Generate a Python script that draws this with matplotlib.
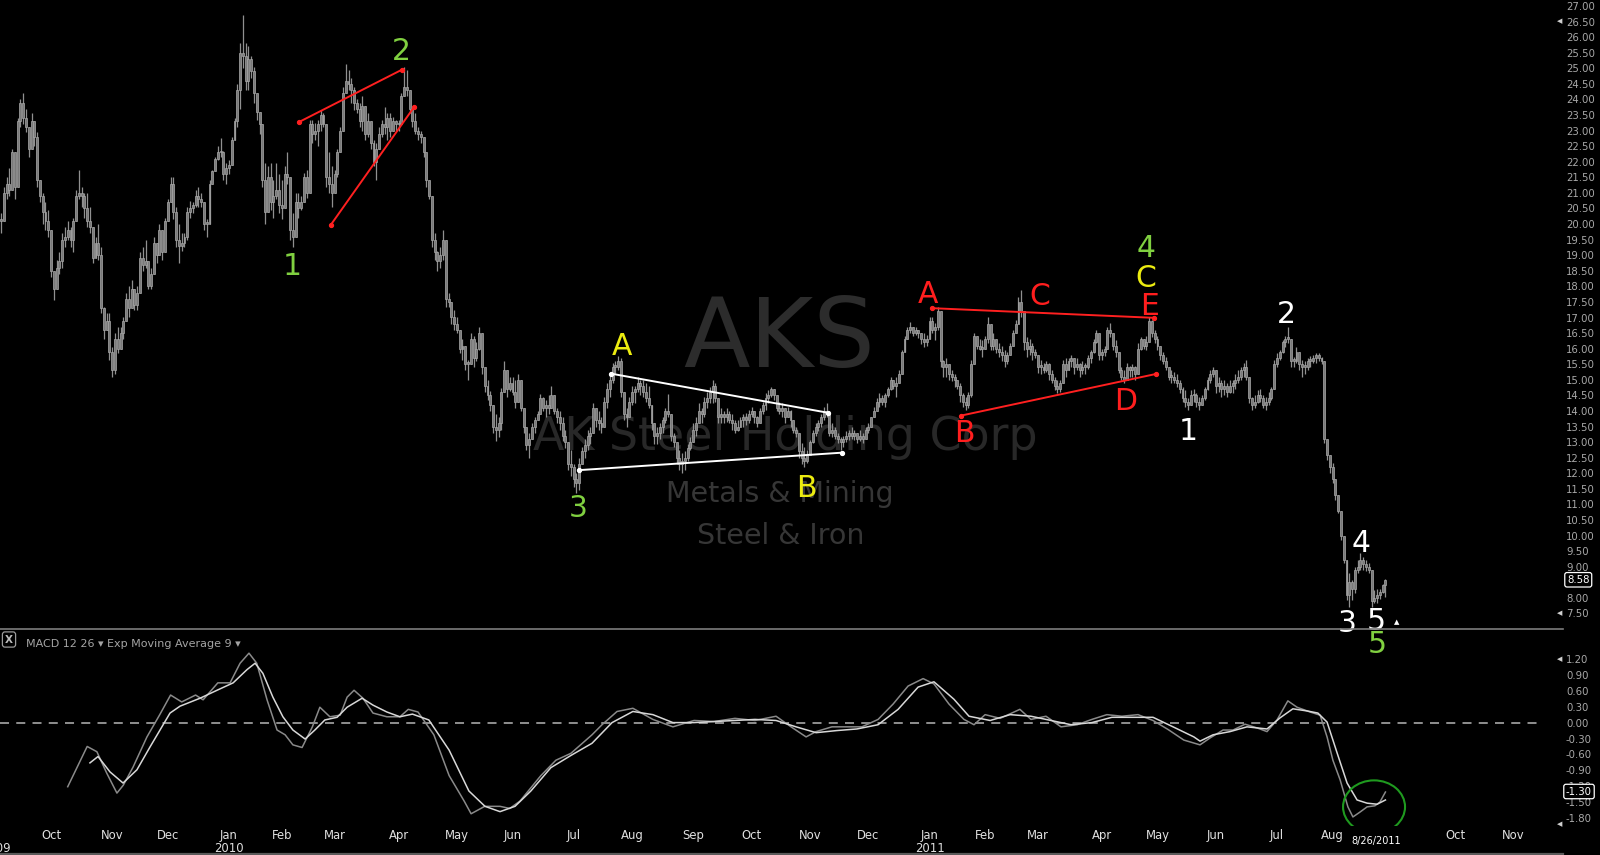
import numpy as np
import pandas as pd
import matplotlib
matplotlib.use("Agg")
import matplotlib.pyplot as plt
from matplotlib.patches import Ellipse
from matplotlib.lines import Line2D
import matplotlib.transforms as mtransforms

# ====================== DATA ======================
holidays = ['2009-09-07', '2009-11-26', '2009-12-25', '2010-01-01', '2010-01-18',
            '2010-02-15', '2010-04-02', '2010-05-31', '2010-07-05', '2010-09-06',
            '2010-11-25', '2010-12-24', '2011-01-17', '2011-02-21', '2011-04-22',
            '2011-05-30', '2011-07-04', '2011-09-05', '2011-11-24']
first_day = '2009-09-04'
axis_end_day = '2011-11-30'

high = [
    # Sep 2009
    20.35, 21.2, 21.5, 21.8, 22.4, 22.15, 23.4, 24.0, 24.2, 23.7, 22.9, 23.55, 23.1, 22.95, 21.4, 21.0, 20.7, 20.45,
    # Oct 2009
    19.7, 18.4, 18.85, 19.1, 19.7, 19.9, 20.1, 19.9, 20.2, 21.1, 21.75, 21.2, 21.0, 21.0, 20.55, 19.7, 19.6, 20.0, 19.25, 17.35, 17.15, 17.15,
    # Nov 2009
    16.05, 16.5, 16.7, 16.7, 17.0, 17.8, 18.0, 18.2, 17.8, 18.0, 19.1, 19.25, 19.5, 18.75, 18.6, 19.6, 19.25, 20.0, 19.8, 20.2,
    # Dec 2009
    20.8, 21.5, 21.5, 20.55, 20.0, 19.7, 19.7, 20.55, 20.75, 20.7, 21.1, 21.2, 21.0, 20.45, 20.15, 21.4, 21.75, 22.15, 22.5, 22.75, 22.35, 21.95,
    # Jan 2010
    22.05, 22.8, 23.4, 24.5, 25.8, 26.7, 25.8, 25.7, 25.4, 25.05, 24.2, 23.55, 23.0, 21.95, 21.85, 21.95, 21.4, 21.95, 21.6,
    # Feb 2010
    21.4, 21.85, 22.3, 20.8, 20.35, 21.0, 21.0, 20.9, 21.65, 21.75, 23.35, 23.35, 23.25, 23.35, 23.65, 23.55, 22.8, 22.3, 21.85,
    # Mar 2010
    21.75, 22.4, 23.1, 24.4, 25.15, 24.95, 24.7, 24.4, 24.0, 23.9, 24.1, 23.25, 23.55, 23.1, 22.7, 22.6, 23.1, 23.35, 23.75, 23.55, 23.55, 23.45, 23.35,
    # Apr 2010
    23.35, 24.2, 25.05, 24.95, 24.0, 23.75, 23.55, 23.1, 23.0, 22.8, 22.05, 21.2, 20.8, 19.7, 19.15, 19.25, 19.8, 18.6, 17.8, 17.25, 17.25,
    # May 2010
    17.0, 16.5, 16.3, 15.95, 15.65, 16.5, 16.4, 16.2, 16.7, 16.2, 15.4, 15.0, 14.65, 14.0, 13.9, 13.8, 14.75, 15.6, 15.2, 15.1,
    # Jun 2010
    15.1, 15.0, 15.2, 14.9, 14.1, 13.5, 13.3, 13.6, 13.8, 14.0, 14.55, 14.45, 14.35, 14.5, 14.8, 14.35, 14.1, 14.0, 13.8, 13.4, 12.95, 12.75,
    # Jul 2010
    12.3, 12.0, 12.5, 12.85, 13.1, 13.4, 13.5, 14.25, 14.1, 14.0, 13.8, 14.45, 14.9, 15.2, 15.55, 15.6, 15.75, 15.7, 14.25, 14.1, 14.45,
    # Aug 2010
    14.8, 14.8, 15.1, 15.0, 15.0, 14.9, 14.8, 13.9, 13.6, 13.5, 13.6, 13.8, 14.1, 14.55, 13.7, 13.3, 12.9, 12.75, 12.65, 12.7, 12.95, 13.15,
    # Sep 2010
    13.6, 13.8, 14.25, 14.1, 14.46, 14.6, 14.78, 15.0, 14.9, 14.3, 14.1, 14.0, 14.1, 14.0, 13.9, 13.7, 13.7, 13.82, 13.9, 13.95, 14.03,
    # Oct 2010
    14.14, 14.0, 13.85, 14.1, 14.3, 14.57, 14.67, 14.78, 14.7, 14.5, 14.3, 14.24, 14.0, 14.14, 14.03, 13.7, 13.5, 13.2, 12.96, 12.85, 12.75,
    # Nov 2010
    13.07, 13.39, 13.6, 13.7, 13.9, 14.14, 14.24, 14.0, 13.6, 13.5, 13.28, 13.17, 13.2, 13.35, 13.39, 13.5, 13.39, 13.28, 13.39, 13.3, 13.5,
    # Dec 2010
    13.6, 13.82, 14.14, 14.4, 14.57, 14.5, 14.57, 14.78, 15.1, 15.0, 15.1, 15.3, 15.96, 16.4, 16.7, 16.87, 16.7, 16.7, 16.6, 16.5, 16.49, 16.45,
    # Jan 2011
    17.03, 17.0, 16.81, 17.35, 16.3, 15.64, 15.7, 15.42, 15.3, 15.2, 15.0, 14.89, 14.57, 14.46, 14.6, 15.64, 16.49, 16.4, 16.3, 16.28,
    # Feb 2011
    16.4, 17.03, 16.6, 16.49, 16.3, 16.17, 16.1, 15.96, 15.9, 16.17, 16.6, 16.92, 17.67, 17.88, 16.81, 16.39, 16.3, 16.17, 16.0,
    # Mar 2011
    15.74, 15.65, 15.53, 15.6, 15.53, 15.32, 15.1, 14.99, 15.0, 15.64, 15.7, 15.7, 15.8, 15.6, 15.7, 15.53, 15.6, 15.53, 15.8, 15.96, 16.3, 16.6, 16.17,
    # Apr 2011
    16.0, 16.1, 16.71, 16.81, 16.49, 16.28, 15.85, 15.42, 15.32, 15.53, 15.45, 15.5, 15.45, 16.17, 16.39, 16.3, 16.4, 17.03, 16.92, 16.6,
    # May 2011
    16.4, 16.06, 15.9, 15.74, 15.42, 15.31, 15.25, 15.2, 14.99, 14.78, 14.67, 14.4, 14.67, 14.7, 14.57, 14.46, 14.5, 14.78, 15.1, 15.31, 15.42,
    # Jun 2011
    15.2, 15.1, 14.99, 15.0, 14.9, 14.99, 15.0, 15.2, 15.31, 15.42, 15.53, 15.63, 14.99, 14.46, 14.5, 14.67, 14.7, 14.5, 14.46, 14.6, 14.78, 15.63,
    # Jul 2011
    15.85, 15.96, 16.28, 16.4, 16.7, 16.28, 15.74, 16.06, 15.9, 15.63, 15.6, 15.7, 15.75, 15.8, 15.85, 15.85, 15.74, 14.78, 13.07, 12.53,
    # Aug 2011
    12.32, 11.78, 11.25, 10.71, 9.86, 9.0, 8.79, 8.57, 9.0, 9.21, 9.43, 9.3, 9.2, 9.11, 8.36, 8.25, 8.3, 8.3, 8.46, 8.6,
]

low = [
    19.7, 20.7, 20.8, 20.9, 21.5, 20.8, 21.7, 23.1, 23.2, 22.95, 22.15, 22.4, 22.5, 21.2, 20.7, 20.0, 19.8, 19.6,
    18.3, 17.55, 18.2, 18.4, 18.6, 19.25, 19.5, 19.25, 19.1, 20.45, 20.8, 20.55, 20.2, 19.9, 19.7, 18.75, 19.1, 18.85, 17.15, 16.3, 16.7, 15.65,
    15.1, 15.2, 15.85, 16.05, 16.3, 17.35, 17.0, 17.55, 17.25, 17.25, 18.1, 18.5, 18.6, 17.9, 17.9, 18.95, 18.75, 19.4, 18.85, 19.7,
    20.15, 20.8, 20.15, 19.25, 18.75, 19.15, 19.25, 19.5, 20.2, 20.35, 20.55, 20.55, 20.55, 19.8, 19.6, 20.2, 21.4, 21.8, 22.05, 22.15, 21.4, 21.3,
    21.6, 22.0, 22.7, 23.1, 23.7, 25.0, 24.3, 24.3, 24.7, 23.9, 23.35, 22.9, 21.2, 20.0, 21.0, 20.45, 20.2, 20.8, 20.35,
    20.15, 20.85, 21.3, 19.5, 19.25, 19.9, 20.2, 20.45, 20.8, 20.85, 21.85, 22.6, 22.7, 22.5, 23.0, 23.1, 21.2, 21.0, 20.55,
    21.2, 21.5, 22.3, 23.0, 24.3, 24.3, 23.9, 23.65, 23.55, 23.1, 23.0, 22.7, 22.8, 22.4, 21.85, 21.4, 22.5, 22.8, 22.9, 22.7, 22.8, 23.0, 23.0,
    23.0, 23.35, 24.2, 24.1, 23.55, 23.1, 22.9, 22.7, 22.6, 22.15, 21.2, 20.8, 19.25, 18.85, 18.5, 18.6, 18.85, 17.35, 17.35, 16.8, 16.6,
    16.5, 15.85, 15.65, 15.3, 15.0, 15.65, 15.4, 15.6, 15.95, 15.2, 14.6, 14.35, 14.0, 13.3, 13.05, 13.15, 13.4, 14.65, 14.45, 14.65,
    14.5, 14.1, 14.45, 14.0, 13.3, 12.75, 12.5, 13.15, 13.3, 13.7, 14.0, 14.0, 13.8, 13.9, 14.1, 13.9, 13.6, 13.4, 13.05, 12.8, 12.1, 11.9,
    11.55, 11.35, 11.45, 12.3, 12.5, 12.75, 12.95, 13.4, 13.5, 13.4, 13.3, 13.6, 14.1, 14.45, 14.9, 15.2, 15.3, 14.45, 13.7, 13.5, 13.9,
    14.2, 14.25, 14.6, 14.5, 14.45, 14.3, 14.1, 13.4, 12.95, 12.95, 13.1, 13.3, 13.6, 13.8, 13.05, 12.85, 12.3, 12.1, 12.0, 12.1, 12.4, 12.75,
    13.05, 13.2, 13.6, 13.6, 13.82, 14.1, 14.24, 14.24, 14.3, 13.6, 13.6, 13.6, 13.65, 13.6, 13.4, 13.28, 13.35, 13.5, 13.5, 13.55, 13.6,
    13.82, 13.6, 13.5, 13.7, 13.9, 14.03, 14.24, 14.46, 14.35, 14.0, 13.9, 13.82, 13.6, 13.82, 13.5, 13.28, 13.17, 12.5, 12.3, 12.21, 12.32,
    12.64, 12.96, 13.2, 13.35, 13.5, 13.71, 13.82, 13.2, 13.17, 13.1, 12.96, 12.75, 12.85, 13.0, 13.07, 13.1, 13.07, 12.96, 13.05, 12.96, 13.1,
    13.28, 13.5, 13.82, 14.0, 14.14, 14.2, 14.14, 14.46, 14.67, 14.7, 14.46, 14.89, 15.42, 15.96, 16.3, 16.49, 16.4, 16.45, 16.35, 16.15, 16.06, 16.1,
    16.4, 16.5, 16.28, 16.6, 15.4, 15.1, 15.1, 15.0, 14.95, 14.78, 14.7, 14.3, 14.14, 14.03, 14.1, 14.46, 15.96, 16.0, 15.95, 15.74,
    16.0, 16.17, 15.96, 15.96, 15.85, 15.74, 15.6, 15.42, 15.5, 15.85, 16.3, 16.49, 16.92, 17.03, 15.96, 15.74, 15.8, 15.64, 15.7,
    15.21, 15.2, 15.21, 15.25, 15.0, 14.89, 14.67, 14.57, 14.6, 15.1, 15.1, 15.3, 15.4, 15.2, 15.3, 15.1, 15.2, 15.2, 15.35, 15.53, 15.85, 16.17, 15.64,
    15.65, 15.75, 16.28, 16.39, 15.96, 15.74, 15.21, 15.0, 14.89, 15.1, 15.1, 15.1, 15.0, 15.53, 15.96, 16.0, 15.96, 16.49, 16.39, 16.17,
    15.96, 15.64, 15.5, 15.31, 14.99, 14.89, 14.9, 14.78, 14.57, 14.3, 14.14, 14.03, 14.24, 14.3, 14.14, 14.03, 14.2, 14.35, 14.67, 14.89, 15.1,
    14.57, 14.6, 14.46, 14.5, 14.46, 14.57, 14.57, 14.7, 14.89, 14.99, 15.1, 14.99, 14.24, 14.03, 14.1, 14.24, 14.3, 14.1, 14.03, 14.2, 14.35, 15.1,
    15.42, 15.64, 15.85, 16.06, 16.17, 15.42, 15.42, 15.53, 15.3, 15.1, 15.2, 15.3, 15.4, 15.55, 15.53, 15.6, 15.5, 12.96, 12.43, 12.0,
    11.68, 11.14, 10.71, 9.86, 9.11, 7.93, 7.72, 7.93, 8.14, 8.79, 8.9, 8.9, 8.85, 8.79, 7.72, 7.83, 7.85, 7.95, 8.14, 8.04,
]

close = [
    20.1, 21.0, 21.3, 21.1, 22.3, 21.2, 23.3, 23.9, 23.4, 23.1, 22.4, 23.3, 22.8, 21.4, 20.9, 20.4, 20.1, 19.8,
    18.5, 17.9, 18.6, 18.8, 19.5, 19.6, 19.8, 19.5, 20.1, 20.9, 21.0, 20.9, 20.5, 20.1, 19.9, 18.9, 19.4, 19.0, 17.3, 16.6, 16.9, 15.9,
    15.3, 16.3, 16.0, 16.5, 16.9, 17.6, 17.3, 17.9, 17.4, 17.8, 18.9, 18.7, 18.8, 18.0, 18.4, 19.4, 19.0, 19.8, 19.1, 20.1,
    20.7, 21.3, 20.4, 19.5, 19.3, 19.4, 19.6, 20.4, 20.5, 20.6, 20.9, 20.8, 20.7, 20.0, 20.0, 21.3, 21.7, 22.1, 22.3, 22.3, 21.6, 21.8,
    21.9, 22.7, 23.3, 24.3, 25.5, 25.4, 24.6, 25.3, 24.9, 24.2, 23.6, 23.2, 21.4, 20.4, 21.5, 20.7, 20.9, 21.1, 20.6,
    20.5, 21.6, 21.5, 19.8, 19.6, 20.7, 20.5, 20.7, 21.5, 21.0, 23.2, 22.9, 23.0, 23.2, 23.5, 23.2, 21.5, 21.3, 21.0,
    21.6, 22.3, 23.0, 24.2, 24.6, 24.5, 24.3, 23.9, 23.7, 23.3, 23.8, 22.9, 23.3, 22.6, 22.0, 22.4, 22.9, 23.2, 23.1, 23.4, 23.0, 23.3, 23.2,
    23.2, 24.1, 24.4, 24.3, 23.7, 23.3, 23.0, 22.9, 22.8, 22.3, 21.4, 20.9, 19.5, 19.1, 18.8, 19.0, 19.5, 17.6, 17.5, 17.0, 16.8,
    16.6, 16.0, 16.1, 15.5, 15.5, 16.3, 15.7, 16.0, 16.5, 15.4, 14.8, 14.5, 14.2, 13.5, 13.4, 13.6, 14.6, 15.3, 14.7, 14.9,
    14.6, 14.3, 15.0, 14.1, 13.5, 12.9, 13.1, 13.5, 13.7, 13.9, 14.4, 14.1, 14.2, 14.1, 14.5, 14.0, 13.8, 13.6, 13.2, 13.0, 12.3, 12.2,
    11.8, 11.7, 12.3, 12.7, 12.9, 13.2, 13.3, 14.1, 13.7, 13.6, 13.5, 14.3, 14.7, 15.0, 15.4, 15.4, 15.6, 14.6, 13.9, 13.8, 14.3,
    14.6, 14.7, 14.9, 14.8, 14.6, 14.4, 14.2, 13.6, 13.2, 13.3, 13.5, 13.7, 14.0, 13.9, 13.2, 13.0, 12.5, 12.3, 12.4, 12.5, 12.8, 13.0,
    13.4, 13.6, 14.0, 13.9, 14.3, 14.4, 14.6, 14.8, 14.4, 13.8, 13.9, 13.8, 13.9, 13.7, 13.6, 13.4, 13.5, 13.7, 13.8, 13.7, 13.9,
    14.0, 13.8, 13.6, 14.0, 14.2, 14.4, 14.5, 14.7, 14.5, 14.1, 14.0, 14.1, 13.8, 14.0, 13.7, 13.4, 13.3, 12.7, 12.5, 12.4, 12.6,
    13.0, 13.3, 13.5, 13.6, 13.8, 14.0, 13.9, 13.3, 13.4, 13.2, 13.1, 13.0, 13.1, 13.2, 13.3, 13.2, 13.3, 13.1, 13.2, 13.1, 13.4,
    13.5, 13.8, 14.0, 14.3, 14.4, 14.3, 14.5, 14.7, 15.0, 14.8, 14.9, 15.2, 15.9, 16.3, 16.6, 16.7, 16.5, 16.6, 16.5, 16.3, 16.2, 16.3,
    16.9, 16.6, 16.7, 17.2, 15.6, 15.4, 15.5, 15.2, 15.1, 15.0, 14.8, 14.5, 14.3, 14.2, 14.5, 15.5, 16.4, 16.1, 16.0, 16.0,
    16.3, 16.8, 16.1, 16.3, 16.0, 15.9, 15.8, 15.6, 15.8, 16.1, 16.5, 16.8, 17.5, 17.2, 16.2, 16.0, 16.1, 15.9, 15.8,
    15.4, 15.4, 15.3, 15.5, 15.2, 15.0, 14.8, 14.7, 14.9, 15.5, 15.3, 15.6, 15.7, 15.4, 15.5, 15.3, 15.4, 15.4, 15.7, 15.9, 16.2, 16.5, 15.8,
    15.9, 16.0, 16.6, 16.5, 16.1, 15.9, 15.3, 15.1, 15.0, 15.4, 15.3, 15.4, 15.2, 16.0, 16.3, 16.1, 16.2, 16.9, 16.5, 16.3,
    16.1, 15.8, 15.6, 15.4, 15.1, 15.1, 15.0, 14.9, 14.7, 14.4, 14.3, 14.2, 14.5, 14.5, 14.3, 14.2, 14.4, 14.7, 15.0, 15.2, 15.3,
    14.8, 14.9, 14.7, 14.8, 14.6, 14.8, 14.9, 15.0, 15.1, 15.3, 15.4, 15.1, 14.4, 14.2, 14.3, 14.5, 14.4, 14.2, 14.3, 14.4, 14.7, 15.5,
    15.7, 15.9, 16.2, 16.3, 16.3, 15.6, 15.6, 15.9, 15.5, 15.4, 15.4, 15.6, 15.6, 15.7, 15.8, 15.7, 15.6, 13.1, 12.6, 12.2,
    11.8, 11.3, 10.8, 10.0, 9.2, 8.1, 8.5, 8.3, 8.9, 9.0, 9.2, 9.1, 9.0, 8.9, 7.9, 8.0, 8.1, 8.2, 8.4, 8.58,
]

# MACD(12,26) and its 9-period EMA as (trading-day index, value)
macd_pts = [
    (24, -1.21), (31, -0.45), (34.5, -0.55), (38, -0.95), (41.7, -1.33), (44, -1.18), (47.5, -0.84),
    (52.5, -0.27), (57, 0.14), (61, 0.52), (65, 0.39), (70, 0.52), (72.7, 0.43), (78, 0.75), (82.4, 0.75),
    (86, 1.12), (89.2, 1.31), (92, 1.12), (95.7, 0.43), (99.3, -0.14), (102.2, -0.23), (105, -0.42),
    (108.3, -0.47), (112, -0.08), (114.7, 0.29), (118.3, 0.11), (122, 0.14), (124.5, 0.48), (127, 0.61),
    (130.2, 0.46), (133.8, 0.18), (138.8, 0.11), (143.5, 0.11), (146.5, 0.25), (150, 0.20), (155.7, -0.23),
    (161.2, -1.0), (166.6, -1.48), (169.1, -1.72), (174, -1.58), (179.5, -1.58), (183, -1.62), (186.7, -1.48),
    (194.2, -1.0), (199.6, -0.71), (205, -0.58), (212.6, -0.23), (216.2, -0.04), (221.6, 0.21), (227.3, 0.27),
    (234.5, 0.06), (241.7, -0.08), (249.3, 0.04), (256.5, 0.02), (264, 0.08), (271.2, 0.04), (278.8, 0.12),
    (284.2, -0.08), (289.6, -0.27), (293.2, -0.17), (298.9, -0.08), (304.3, -0.08), (309.7, -0.08),
    (315.5, 0.06), (320.9, 0.35), (326.3, 0.69), (331.7, 0.83), (335.6, 0.73), (341, 0.35), (346.4, 0.06),
    (350, -0.04), (354, 0.15), (359.4, 0.08), (366.5, 0.25), (370.5, 0.06), (375.9, 0.12), (381.3, -0.08),
    (387.1, -0.04), (392.4, 0.06), (397.8, 0.15), (403.2, 0.12), (409, 0.15), (414.4, 0.04), (419.8, -0.13),
    (425.5, -0.33), (431.3, -0.42), (434.9, -0.29), (439.6, -0.14), (443.2, -0.14), (447.5, -0.03),
    (451.8, -0.10), (455.4, -0.17), (459, 0.05), (462.9, 0.41), (466.2, 0.29), (470.9, 0.20), (474.5, 0.14),
    (477, -0.27), (479.1, -0.71), (481.7, -1.08), (484.5, -1.59), (486.3, -1.78), (488.8, -1.69),
    (491.4, -1.59), (494.2, -1.57), (496, -1.50), (498, -1.31),
]
signal_pts = [
    (32, -0.76), (34.9, -0.64), (39.2, -0.93), (43.9, -1.14), (48.9, -0.89), (53.6, -0.46), (60.8, 0.18),
    (64.4, 0.31), (71.6, 0.46), (77.7, 0.61), (83.5, 0.75), (88.5, 1.0), (91.4, 1.12), (94.2, 0.93),
    (97.8, 0.48), (101.4, 0.11), (105, -0.14), (109.4, -0.31), (112.9, -0.14), (116.5, 0.05), (120.9, 0.10),
    (124.5, 0.29), (129.9, 0.46), (133.8, 0.33), (138.8, 0.20), (143.5, 0.11), (148, 0.16), (153.9, 0.05),
    (161.2, -0.52), (168.3, -1.29), (174.1, -1.58), (179.5, -1.68), (184.9, -1.58), (190.6, -1.29),
    (197.8, -0.85), (205, -0.62), (212.6, -0.39), (219.8, 0.0), (227.3, 0.21), (234.5, 0.15), (241.7, 0.0),
    (249.3, 0.0), (256.5, 0.02), (264, 0.04), (271.2, 0.06), (278.8, 0.04), (286, -0.08), (293.2, -0.19),
    (300.7, -0.15), (307.9, -0.12), (315.5, -0.04), (322.7, 0.25), (329.9, 0.67), (335.6, 0.77),
    (342.8, 0.44), (348.2, 0.12), (355.8, 0.04), (363, 0.15), (370.5, 0.12), (377.7, 0.04), (384.9, -0.04),
    (392.4, 0.0), (399.6, 0.10), (407.2, 0.10), (414.4, 0.10), (421.6, -0.08), (429.1, -0.27), (431.3, -0.35),
    (436, -0.23), (442.1, -0.17), (448.2, -0.08), (455.4, -0.12), (460.1, 0.09), (464.7, 0.26), (469.8, 0.22),
    (473.7, 0.18), (477, 0.01), (480.6, -0.57), (484.2, -1.14), (487.8, -1.46), (491.4, -1.52), (495, -1.54),
    (498, -1.46),
]

price_ticks = [7.5, 8.0, 9.0, 9.5, 10.0, 10.5, 11.0, 11.5, 12.0, 12.5, 13.0, 13.5, 14.0, 14.5, 15.0, 15.5,
               16.0, 16.5, 17.0, 17.5, 18.0, 18.5, 19.0, 19.5, 20.0, 20.5, 21.0, 21.5, 22.0, 22.5, 23.0,
               23.5, 24.0, 24.5, 25.0, 25.5, 26.0, 26.5, 27.0]
macd_ticks = [1.2, 0.9, 0.6, 0.3, 0.0, -0.3, -0.6, -0.9, -1.2, -1.5, -1.8]
last_price = 8.58
last_macd = -1.30
last_date_label = "8/26/2011"
hidden_months = ['2011-09']

# hand-drawn trend lines: (colour, (day, price), (day, price))
trend_lines = [
    ('#ff2020', (107.3, 23.28), (144.1, 24.95)),
    ('#ff2020', (118.6, 19.97), (148.7, 23.77)),
    ('#ffffff', (219.3, 15.20), (297.6, 13.94)),
    ('#ffffff', (208.0, 12.10), (302.4, 12.66)),
    ('#ff2020', (334.8, 17.30), (414.6, 16.99)),
    ('#ff2020', (345.3, 13.85), (415.6, 15.19)),
]
GREEN, YELLOW, RED, WHITE = '#80d040', '#ecec10', '#ff1e1e', '#ffffff'
# wave labels: (text, colour, x pixel centre, y pixel baseline)
wave_labels = [
    ('1', GREEN, 292, 275), ('2', GREEN, 401, 60), ('3', GREEN, 578, 517), ('4', GREEN, 1146, 257),
    ('5', GREEN, 1377, 653),
    ('A', YELLOW, 622, 355), ('B', YELLOW, 806, 497), ('C', YELLOW, 1146, 287),
    ('A', RED, 928, 303), ('C', RED, 1040, 305), ('E', RED, 1150, 315), ('B', RED, 964, 442),
    ('D', RED, 1126, 410),
    ('1', WHITE, 1188, 440), ('2', WHITE, 1286, 323), ('3', WHITE, 1347, 632), ('4', WHITE, 1361, 552),
    ('5', WHITE, 1376, 630),
]

# ====================== LAYOUT ======================
W, H, DPI = 1600, 855, 100
PX_PER_DAY, DAY0_PX = 2.78, 1.0
PLOT_RIGHT = 1555
SEP_Y, MACD_BOT = 629, 826
P_TOP_PX, P_PX_PER_UNIT, P_REF = 6.0, 31.15, 27.0     # y_px = 6 + (27 - p) * 31.15
M_ZERO_PX, M_PX_PER_UNIT = 722.6, 53.0


def fx(x):
    return x / W


def fy(y):
    return 1 - y / H


plt.rcParams['font.family'] = ['DejaVu Sans']
fig = plt.figure(figsize=(W / DPI, H / DPI), dpi=DPI, facecolor='black')

axp = fig.add_axes([0, fy(SEP_Y), fx(PLOT_RIGHT), SEP_Y / H])
axm = fig.add_axes([0, fy(MACD_BOT), fx(PLOT_RIGHT), (MACD_BOT - SEP_Y) / H])
xlim = (-DAY0_PX / PX_PER_DAY, (PLOT_RIGHT - DAY0_PX) / PX_PER_DAY)
for a in (axp, axm):
    a.set_facecolor('none')
    a.set_xlim(*xlim)
    a.set_xticks([])
    for s in a.spines.values():
        s.set_visible(False)
    a.yaxis.set_ticks_position('right')
    a.tick_params(axis='y', length=0, pad=7.9, labelsize=7.3, labelcolor='#a9a9a9',
                  labelleft=False, labelright=True)

axp.set_ylim(P_REF - (SEP_Y - P_TOP_PX) / P_PX_PER_UNIT, P_REF + P_TOP_PX / P_PX_PER_UNIT)
axm.set_ylim((M_ZERO_PX - MACD_BOT) / M_PX_PER_UNIT, (M_ZERO_PX - SEP_Y) / M_PX_PER_UNIT)
axp.set_yticks(price_ticks)
axp.set_yticklabels([f'{v:.2f}' for v in price_ticks])
axm.set_yticks(macd_ticks)
axm.set_yticklabels([f'{v:.2f}' for v in macd_ticks])

# ---- watermark ----
wm = [('AKS', 779, 367, 70, '#2c2c2c'),
      ('AK Steel Holding Corp', 785, 450, 33, '#282828'),
      ('Metals & Mining', 780, 502, 20.5, '#363636'),
      ('Steel & Iron', 781, 544, 20.5, '#363636')]
for s, x, y, fs, c in wm:
    axp.text(fx(x), fy(y), s, transform=fig.transFigure, ha='center', va='baseline',
             fontsize=fs, color=c, zorder=0)

# ---- candles ----
n = min(len(high), len(low), len(close))
idx = np.arange(n)
hi = np.array(high[:n]); lo = np.array(low[:n]); cl = np.array(close[:n])
op = np.r_[cl[0], cl[:-1]]
top = np.maximum(hi, np.maximum(op, cl))
bot = np.minimum(lo, np.minimum(op, cl))
axp.vlines(idx, bot, top, colors='#909090', linewidth=0.9, zorder=2)
body_lo = np.minimum(op, cl)
body_h = np.maximum(np.abs(cl - op), 0.06)
axp.bar(idx, body_h, bottom=body_lo, width=0.7, color='#7a7a7a', edgecolor='#a8a8a8',
        linewidth=0.5, zorder=3)

# ---- trend lines ----
for c, (d0, p0), (d1, p1) in trend_lines:
    axp.plot([d0, d1], [p0, p1], color=c, lw=1.4, marker='o', ms=2.8, zorder=6,
             solid_capstyle='round')

# ---- wave labels ----
for s, c, x, y in wave_labels:
    axp.text(fx(x), fy(y), s, transform=fig.transFigure, ha='center', va='baseline',
             fontsize=21.5, color=c, zorder=8)

# small event marker
fig.text(fx(1397), fy(624), '\u25B2', color='white', fontsize=5, ha='center', va='baseline')

# ---- MACD ----
md, mv = zip(*macd_pts)
sd, sv = zip(*signal_pts)
axm.axhline(0, xmin=0, xmax=1542 / PLOT_RIGHT, color='#9a9a9a', lw=1.3, ls=(0, (5, 4)))
axm.plot(md, mv, color='#8a8a8a', lw=1.1, zorder=3)
axm.plot(sd, sv, color='#d8d8d8', lw=1.1, zorder=4)
axm.add_patch(Ellipse((493.9, -1.59), 22.3, 1.0, fill=False, ec='#1f9a1f', lw=1.5, zorder=5))

# ---- value boxes ----
tp = mtransforms.blended_transform_factory(fig.transFigure, axp.transData)
tm = mtransforms.blended_transform_factory(fig.transFigure, axm.transData)
box = dict(boxstyle='round,pad=0.22', fc='black', ec='white', lw=0.9)
axp.text(fx(1567), last_price, f'{last_price:.2f}', transform=tp, color='white', fontsize=7.3,
         ha='left', va='center', bbox=box, zorder=10)
axm.text(fx(1566), last_macd, f'{last_macd:.2f}', transform=tm, color='white', fontsize=7.3,
         ha='left', va='center', bbox=box, zorder=10)

# right-edge range markers
for ypx in (21.6, 613.5, 659, 824):
    fig.text(fx(1560), fy(ypx), '\u25C0', fontsize=5, color='#d0d0d0', ha='center', va='center')

# ---- panel separators ----
fig.add_artist(Line2D([0, fx(1563)], [fy(SEP_Y), fy(SEP_Y)], color='#7c7c7c', lw=1.2))
fig.add_artist(Line2D([0, fx(1563)], [fy(853.5), fy(853.5)], color='#5a5a5a', lw=1.6))

# ---- MACD header ----
fig.text(fx(9), fy(639.5), 'X', fontsize=7.5, color='#bdbdbd', ha='center', va='center',
         fontweight='bold', bbox=dict(boxstyle='round,pad=0.25', fc='black', ec='#9a9a9a', lw=0.9))
fig.text(fx(26), fy(646.5), 'MACD 12 26 \u25BE', fontsize=8, color='#a4a4a4', ha='left', va='baseline')
fig.text(fx(107), fy(646.5), 'Exp Moving Average 9 \u25BE', fontsize=8, color='#a4a4a4',
         ha='left', va='baseline')

# ---- date axis ----
dates = pd.bdate_range(first_day, axis_end_day, freq='C', holidays=holidays)
pos = pd.Series(np.arange(len(dates)), index=dates)
firsts = pos.groupby([dates.year, dates.month]).first()
tx = mtransforms.blended_transform_factory(axm.transData, fig.transFigure)
for (yr, mo), i in firsts.items():
    if i == 0 or f'{yr}-{mo:02d}' in hidden_months:
        continue
    fig.text(i, fy(839), dates[i].strftime('%b'), transform=tx, fontsize=8.4, color='#e0e0e0',
             ha='center', va='baseline')
    if mo == 1:
        fig.text(i, fy(852), str(yr), transform=tx, fontsize=8.4, color='#e0e0e0',
                 ha='center', va='baseline')
fig.text(fx(11), fy(852), str(dates[0].year), fontsize=8.4, color='#e0e0e0', ha='right', va='baseline')
fig.text(n - 1 - 3.2, fy(844), last_date_label, transform=tx, fontsize=7, color='white',
         ha='center', va='baseline')

fig.savefig('out.png', dpi=DPI, facecolor='black')
